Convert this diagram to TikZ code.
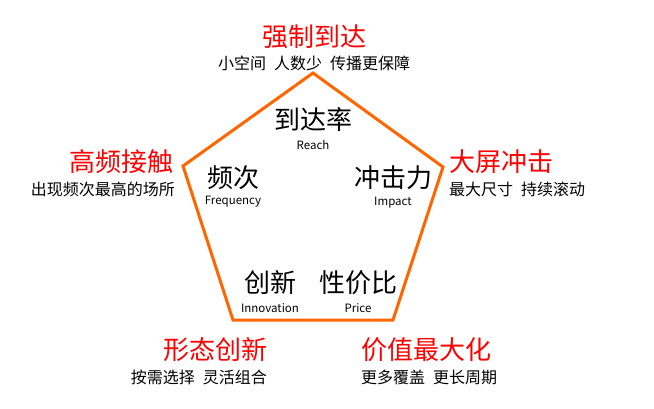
\documentclass[tikz,border=0pt]{standalone}
\usepackage{fontspec}
\setmainfont{Noto Sans CJK SC}
\definecolor{penta}{RGB}{255,102,0}
\definecolor{hired}{RGB}{255,0,0}
\tikzset{
  head/.style={text=hired, font=\fontsize{26}{28}\selectfont, inner sep=0pt},
  sub/.style={text=black, font=\fontsize{16}{18}\selectfont, inner sep=0pt},
  big/.style={text=black, font=\fontsize{26}{28}\selectfont, inner sep=0pt},
  eng/.style={text=black, font=\fontsize{11.5}{13}\selectfont, inner sep=0pt},
  edge/.style={draw=penta, line width=3pt, line join=miter}
}
\begin{document}
\begin{tikzpicture}[x=1pt,y=-1pt]
\useasboundingbox (0,0) rectangle (654,409);
% pentagon
\coordinate (t) at (313,73);
\coordinate (r) at (443,167);
\coordinate (br) at (393,320);
\coordinate (bl) at (233,320);
\coordinate (l) at (183,166);
\draw[edge] (t) -- (r) -- (br) -- (bl) -- (l) -- cycle;
% inner labels
\node[big] (reach) at (313,120) {到达率};
\node[eng] (reachE) at (313,145) {Reach};
\node[big] (freq) at (233,178) {频次};
\node[eng] (freqE) at (233,202) {Frequency};
\node[big] (imp) at (393,178) {冲击力};
\node[eng] (impE) at (393,203) {Impact};
\node[big] (inno) at (270,283) {创新};
\node[eng] (innoE) at (270,308) {Innovation};
\node[big] (price) at (358,283) {性价比};
\node[eng] (priceE) at (358,308) {Price};
% outer labels
\node[head] (h1) at (314,37) {强制到达};
\node[sub] (s1) at (314,63) {小空间\hspace{0.5em}人数少\hspace{0.5em}传播更保障};
\node[head, anchor=east] (h2) at (174,162) {高频接触};
\node[sub, anchor=east] (s2) at (175,189) {出现频次最高的场所};
\node[head, anchor=west] (h3) at (449,162) {大屏冲击};
\node[sub, anchor=west] (s3) at (449,189) {最大尺寸\hspace{0.5em}持续滚动};
\node[head, anchor=east] (h4) at (268,350) {形态创新};
\node[sub, anchor=east] (s4) at (267,377) {按需选择\hspace{0.5em}灵活组合};
\node[head, anchor=west] (h5) at (361,350) {价值最大化};
\node[sub, anchor=west] (s5) at (361,377) {更多覆盖\hspace{0.5em}更长周期};
\end{tikzpicture}
\end{document}
